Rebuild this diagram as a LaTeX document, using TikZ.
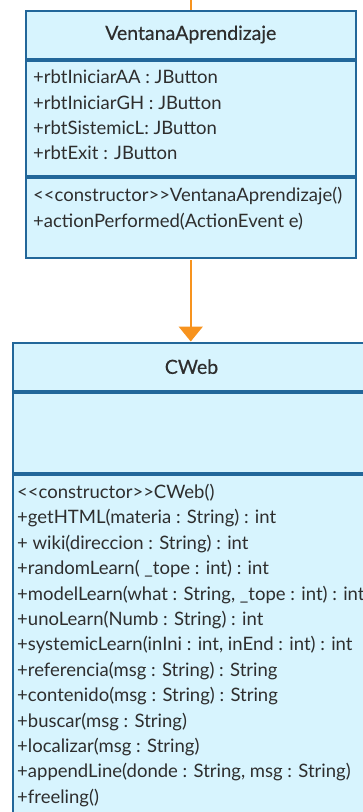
\documentclass[tikz,border=0pt]{standalone}
\usepackage{fontspec}
\setmainfont{Lato}
\newfontfamily\headfont[FakeBold=0.4]{Lato}
\usetikzlibrary{positioning}
\usetikzlibrary{arrows.meta}
\definecolor{umlfill}{HTML}{D7F4FE}
\definecolor{umlline}{HTML}{22679A}
\definecolor{assocorange}{HTML}{F7931E}
\definecolor{umltext}{HTML}{2E2E2E}

\begin{document}
\begin{tikzpicture}[x=1pt, y=-1pt, >={Triangle[width=24pt,length=15pt]},
                    every node/.style={font=\fontsize{18.5}{21}\selectfont, text=umltext},
                    part/.style={draw=umlline, fill=umlfill, line width=2pt,
                                 anchor=north west, inner sep=0pt},
                    head/.style={part, font=\headfont\fontsize{19.5}{22}\selectfont},
                    member/.style={anchor=west, inner sep=0pt}]
\useasboundingbox (0,0) rectangle (363,812);
\clip (0,0) rectangle (363,812);

% VentanaAprendizaje
\node[head, minimum width=330.5pt, minimum height=48pt] (vaHead) at (24.5,9.5) {VentanaAprendizaje};
\node[part, minimum width=330.5pt, minimum height=115.5pt] (vaAttr) at (vaHead.south west) {};
\node[part, minimum width=330.5pt, minimum height=80pt] (vaOps) at (vaAttr.south west) {};
\foreach \txt [count=\i from 0] in {{+rbtIniciarAA : JButton}, {+rbtIniciarGH : JButton},
                                    {+rbtSistemicL: JButton}, {+rbtExit : JButton}}
    \node[member] (vaA\i) at (33, 77+25.3*\i) {\txt};
\foreach \txt [count=\i from 0] in {{<{}<constructor>{}>VentanaAprendizaje()},
                                    {+actionPerformed(ActionEvent e)}}
    \node[member] (vaM\i) at (33, 196+25.3*\i) {\txt};

% CWeb
\node[head, minimum width=358pt, minimum height=48.5pt] (cwHead) at (11.5,341.5) {CWeb};
\node[part, minimum width=358pt, minimum height=80pt] (cwAttr) at (cwHead.south west) {};
\node[part, minimum width=358pt, minimum height=380pt] (cwOps) at (cwAttr.south west) {};
\foreach \txt [count=\i from 0] in {{<{}<constructor>{}>CWeb()},
                                    {+getHTML(materia : String) : int},
                                    {+ wiki(direccion : String) : int},
                                    {+randomLearn( \_tope : int) : int},
                                    {+modelLearn(what : String, \_tope : int) : int},
                                    {+unoLearn(Numb : String) : int},
                                    {+systemicLearn(inIni : int, inEnd : int) : int},
                                    {+referencia(msg : String) : String},
                                    {+contenido(msg : String) : String},
                                    {+buscar(msg : String)},
                                    {+localizar(msg : String)},
                                    {+appendLine(donde : String, msg : String)},
                                    {+freeling()}}
    \node[member] (cwM\i) at (17, 493+25.4*\i) {\txt};

% connectors
\coordinate (vaIn) at (vaHead.north |- 0,-5);
\draw[assocorange, line width=2pt] (vaIn) -- (vaHead.north);
\draw[->, assocorange, line width=2pt, shorten <=1pt] (vaOps.south) -- (vaOps.south |- cwHead.north);
\end{tikzpicture}
\end{document}
